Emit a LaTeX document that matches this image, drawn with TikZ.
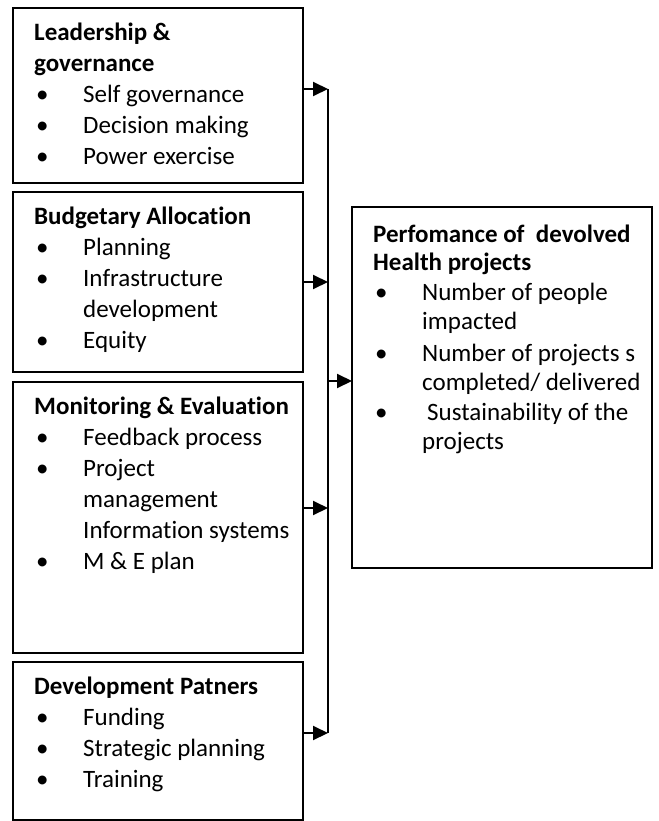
\documentclass[tikz,border=0pt]{standalone}
\usepackage{fontspec}
\setmainfont{Carlito}[Ligatures={NoCommon}]
\usetikzlibrary{arrows.meta}
\newcommand\itm{\hspace*{2pt}\makebox[47pt][l]{\textbullet}}
\newcommand\cnt{\hspace*{49pt}}
\newcommand\fst{\rule{0pt}{24pt}}
\begin{document}
\begin{tikzpicture}[x=1pt,y=1pt,
  box/.style={draw, line width=1.6pt, anchor=north west, inner sep=0pt, outer sep=0pt},
  txt/.style={anchor=north west, inner sep=0pt, align=left, font=\fontsize{25}{31}\selectfont},
  rtxt/.style={anchor=north west, inner sep=0pt, align=left, font=\fontsize{25}{28.5}\selectfont},
  conn/.style={line width=2pt},
  arr/.style={line width=2pt, -{Triangle[length=15pt,width=14pt]}}]
\useasboundingbox (0,0) rectangle (658,-821);
% boxes
\node[box, minimum width=290pt, minimum height=175pt] (b1) at (13,-8) {};
\node[box, minimum width=290pt, minimum height=180pt] (b2) at (13,-192) {};
\node[box, minimum width=290pt, minimum height=271pt] (b3) at (13,-382) {};
\node[box, minimum width=290pt, minimum height=158pt] (b4) at (13,-662) {};
\node[box, minimum width=300pt, minimum height=361pt] (r) at (352,-207) {};
% texts
\node[txt] (t1) at (34,-16) {\fst\textbf{Leadership \&}\\ \textbf{governance}\\ \itm Self governance\\ \itm Decision making\\ \itm Power exercise};
\node[txt] (t2) at (34,-200) {\fst\textbf{Budgetary Allocation}\\ \itm Planning\\ \itm Infrastructure\\ \cnt development\\ \itm Equity};
\node[txt] (t3) at (34,-390) {\fst\textbf{Monitoring \& Evaluation}\\ \itm Feedback process\\ \itm Project\\ \cnt management\\ \cnt Information systems\\ \itm M \& E plan};
\node[txt] (t4) at (34,-670) {\fst\textbf{Development Patners}\\ \itm Funding\\ \itm Strategic planning\\ \itm Training};
\node[rtxt] (tr) at (373,-218) {\fst\textbf{Perfomance of\ \ devolved}\\ \textbf{Health projects}\\[1.5pt] \itm Number of people\\ \cnt impacted\\[4pt] \itm Number of projects s\\ \cnt completed/ delivered\\[2pt] \itm\hspace*{5pt}Sustainability of the\\ \cnt projects};
% connectors
\coordinate (j1) at (328,-89);
\coordinate (j2) at (328,-282);
\coordinate (j3) at (328,-508);
\coordinate (j4) at (328,-733);
\coordinate (jr) at (328,-381);
\draw[conn] (j1) -- (j4);
\draw[arr] (j1 -| b1.east) -- (j1);
\draw[arr] (j2 -| b2.east) -- (j2);
\draw[arr] (j3 -| b3.east) -- (j3);
\draw[arr] (j4 -| b4.east) -- (j4);
\draw[arr] (jr) -- (jr -| r.west);
\end{tikzpicture}
\end{document}
